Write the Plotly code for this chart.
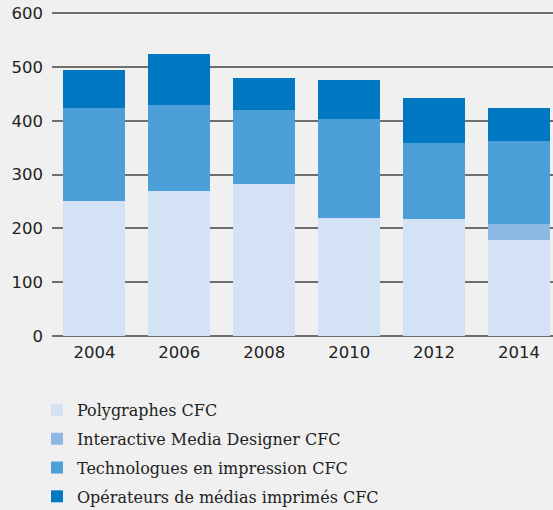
import plotly.graph_objects as go

years = ["2004", "2006", "2008", "2010", "2012", "2014"]
polygraphes = [250, 270, 283, 220, 217, 178]
interactive = [0, 0, 0, 0, 0, 31]
technologues = [173, 160, 136, 184, 142, 154]
operateurs = [71, 94, 61, 72, 84, 61]

series = [
    ("Polygraphes CFC", polygraphes, "#d3e2f4"),
    ("Interactive Media Designer CFC", interactive, "#8db8e3"),
    ("Technologues en impression CFC", technologues, "#4c9fd8"),
    ("Opérateurs de médias imprimés CFC", operateurs, "#0079c2"),
]

fig = go.Figure()
for name, vals, color in series:
    fig.add_trace(go.Bar(x=years, y=vals, name=name, marker_color=color,
                         marker_line_width=0, legendgroup=name))

fig.update_layout(
    barmode="stack",
    bargap=0.27,
    width=553, height=510,
    margin=dict(l=52, r=0, t=12, b=174, autoexpand=False),
    paper_bgcolor="#f0f0f0",
    plot_bgcolor="#f0f0f0",
    font=dict(family="DejaVu Sans", size=16.5, color="#222222"),
    legend=dict(
        traceorder="grouped",
        x=-0.03, y=-0.176, xanchor="left", yanchor="top",
        font=dict(family="DejaVu Serif", size=16, color="#222222"),
        bgcolor="rgba(0,0,0,0)",
        tracegroupgap=5,
    ),
)
fig.update_xaxes(range=[-0.5, 5.4], showgrid=False, ticks="",
                 showline=False, ticklabelstandoff=4, tickfont=dict(size=16.5))
fig.update_yaxes(range=[0, 602], tickvals=[0, 100, 200, 300, 400, 500, 600],
                 showgrid=True, gridcolor="#6e6e6e", gridwidth=1.5,
                 zeroline=True, zerolinecolor="#6e6e6e", zerolinewidth=1.5,
                 ticks="", ticklabelstandoff=8, tickfont=dict(size=16.5))

fig.write_html("out.html", config={"displayModeBar": False},
               post_script="document.body.style.margin='0';")
